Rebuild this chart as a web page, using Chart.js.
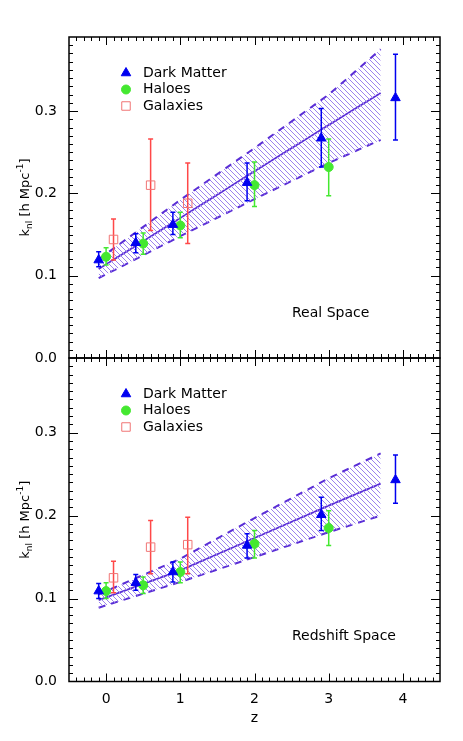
<!DOCTYPE html>
<html>
<head>
<meta charset="utf-8">
<script src="https://cdn.jsdelivr.net/npm/chart.js@4.4.1/dist/chart.umd.min.js"></script>
<style>
  html, body { margin: 0; padding: 0; background: #fff; }
  #wrap { position: relative; width: 463px; height: 741px; }
  canvas { position: absolute; left: 0; }
  #top { top: 0; }
  #bot { top: 328px; }
</style>
</head>
<body>
<div id="wrap">
  <canvas id="top" width="463" height="380"></canvas>
  <canvas id="bot" width="463" height="413"></canvas>
</div>
<script>
// axes
const xTicks = [0, 1, 2, 3, 4];
const yTicks = [0, 0.1, 0.2, 0.3];
const legendLabels = ["Dark Matter", "Haloes", "Galaxies"];
const panelNames = ["Real Space", "Redshift Space"];

// redshifts of each sample
const dmZ = [-0.1, 0.4, 0.9, 1.9, 2.9, 3.9];
const haloZ = [0, 0.5, 1.0, 2.0, 3.0];
const galZ = [0.1, 0.6, 1.1];
const bandZ = [-0.1, 1, 2, 3, 3.7];

// real space
const dmReal = [0.119, 0.140, 0.162, 0.213, 0.267, 0.316];
const dmRealLo = [0.111, 0.128, 0.150, 0.191, 0.232, 0.265];
const dmRealHi = [0.129, 0.151, 0.177, 0.237, 0.303, 0.369];
const haloReal = [0.123, 0.139, 0.161, 0.210, 0.232];
const haloRealLo = [0.113, 0.126, 0.146, 0.184, 0.197];
const haloRealHi = [0.134, 0.152, 0.177, 0.238, 0.266];
const galReal = [0.144, 0.210, 0.188];
const galRealLo = [0.119, 0.155, 0.139];
const galRealHi = [0.169, 0.266, 0.237];
const bandRealHi = [0.120, 0.192, 0.255, 0.320, 0.375];
const bandRealMid = [0.108, 0.170, 0.227, 0.283, 0.322];
const bandRealLo = [0.097, 0.148, 0.193, 0.237, 0.265];

// redshift space
const dmRed = [0.109, 0.119, 0.132, 0.164, 0.201, 0.243];
const dmRedLo = [0.100, 0.110, 0.120, 0.149, 0.182, 0.215];
const dmRedHi = [0.118, 0.129, 0.144, 0.178, 0.222, 0.273];
const haloRed = [0.109, 0.116, 0.132, 0.166, 0.185];
const haloRedLo = [0.100, 0.106, 0.119, 0.149, 0.164];
const haloRedHi = [0.119, 0.126, 0.144, 0.182, 0.206];
const galRed = [0.125, 0.162, 0.165];
const galRedLo = [0.107, 0.130, 0.130];
const galRedHi = [0.145, 0.194, 0.198];
const bandRedHi = [0.105, 0.148, 0.197, 0.245, 0.275];
const bandRedMid = [0.098, 0.134, 0.173, 0.212, 0.2385];
const bandRedLo = [0.089, 0.120, 0.150, 0.180, 0.200];

const FONT = "DejaVu Sans";
const BLUE = "#0000f0", GREEN = "#44e830", RED = "#ff4848", SQ = "#f07575";
const BAND = "#5a2ed6", HATCH = "#9c82ee";

function pts(xs, ys) { return xs.map((x, i) => ({ x: x, y: ys[i] })); }

// diagonal hatching for the band
function hatch() {
  const c = document.createElement("canvas");
  c.width = 5; c.height = 5;
  const g = c.getContext("2d");
  g.strokeStyle = HATCH; g.lineWidth = 1;
  g.beginPath();
  g.moveTo(-1, -1); g.lineTo(6, 6);
  g.moveTo(-1, 4); g.lineTo(1, 6);
  g.moveTo(4, -1); g.lineTo(6, 1);
  g.stroke();
  return g.createPattern(c, "repeat");
}

const errorBars = {
  id: "errorBars",
  beforeDatasetDraw(chart, args) {
    const ds = chart.data.datasets[args.index];
    if (!ds.errLo) return;
    const { ctx, scales: { x, y } } = chart;
    ctx.save();
    ctx.strokeStyle = ds.errColor;
    ctx.lineWidth = 1.5;
    ctx.beginPath();
    ds.data.forEach((p, i) => {
      const px = x.getPixelForValue(p.x);
      const y1 = y.getPixelForValue(ds.errLo[i]), y2 = y.getPixelForValue(ds.errHi[i]);
      ctx.moveTo(px, y1); ctx.lineTo(px, y2);
      ctx.moveTo(px - 2.5, y1); ctx.lineTo(px + 2.5, y1);
      ctx.moveTo(px - 2.5, y2); ctx.lineTo(px + 2.5, y2);
    });
    ctx.stroke();
    ctx.restore();
  }
};

const frameTicks = {
  id: "frameTicks",
  afterDraw(chart, args, opts) {
    const { ctx, chartArea: a, scales: { x, y } } = chart;
    ctx.save();
    ctx.strokeStyle = "#000";
    ctx.lineWidth = 1;
    ctx.beginPath();
    for (let i = 1; i < 50; i++) {
      const v = -0.5 + i * 0.1;
      const px = Math.round(x.getPixelForValue(v)) + 0.5;
      const len = i % 10 === 5 ? 8 : 4;
      ctx.moveTo(px, a.bottom); ctx.lineTo(px, a.bottom - len);
      ctx.moveTo(px, a.top); ctx.lineTo(px, a.top + len);
    }
    for (let i = 1; i < 39; i++) {
      const py = Math.round(y.getPixelForValue(i * 0.01)) + 0.5;
      const len = i % 10 === 0 ? 9 : 4;
      ctx.moveTo(a.left, py); ctx.lineTo(a.left + len, py);
      ctx.moveTo(a.right, py); ctx.lineTo(a.right - len, py);
    }
    ctx.stroke();
    ctx.lineWidth = 1.5;
    ctx.strokeRect(a.left, a.top, a.right - a.left, a.bottom - a.top);

    // legend
    const marks = [
      { pointStyle: "triangle", radius: 5.5, fill: BLUE, stroke: BLUE },
      { pointStyle: "circle", radius: 4.5, fill: GREEN, stroke: GREEN },
      { pointStyle: "rect", radius: 6, fill: null, stroke: SQ }
    ];
    ctx.font = "14px '" + FONT + "'";
    ctx.textBaseline = "middle";
    ctx.textAlign = "left";
    legendLabels.forEach((t, i) => {
      const ly = a.top + 36 + i * 16.5;
      const m = marks[i];
      ctx.fillStyle = m.fill || "rgba(0,0,0,0)";
      ctx.strokeStyle = m.stroke;
      ctx.lineWidth = 1;
      Chart.helpers.drawPoint(ctx, { pointStyle: m.pointStyle, radius: m.radius, rotation: 0, borderWidth: 1 }, 126, ly);
      ctx.fillStyle = "#000";
      ctx.fillText(t, 143, ly);
    });
    ctx.fillText(opts.name, 292, a.bottom - 45);

    // y axis title with subscript and superscript
    ctx.translate(29, (a.top + a.bottom) / 2);
    ctx.rotate(-Math.PI / 2);
    ctx.textBaseline = "alphabetic";
    const parts = [["k", 13, 0], ["nl", 9, 3], [" [h Mpc", 13, 0], ["-1", 9, -6], ["]", 13, 0]];
    let w = 0;
    parts.forEach(p => { ctx.font = p[1] + "px '" + FONT + "'"; w += ctx.measureText(p[0]).width; });
    let cx = -w / 2;
    parts.forEach(p => {
      ctx.font = p[1] + "px '" + FONT + "'";
      ctx.fillText(p[0], cx, p[2]);
      cx += ctx.measureText(p[0]).width;
    });
    ctx.restore();
  }
};

function makePanel(id, name, padTop, xHeight, showX, dm, dmLo, dmHi, halo, haloLo, haloHi, gal, galLo, galHi, bHi, bMid, bLo) {
  const pattern = hatch();
  new Chart(document.getElementById(id), {
    type: "scatter",
    data: {
      datasets: [
        { label: legendLabels[0], data: pts(dmZ, dm), errLo: dmLo, errHi: dmHi, errColor: BLUE,
          pointStyle: "triangle", pointRadius: 5.5, backgroundColor: BLUE, borderColor: BLUE, borderWidth: 1 },
        { label: legendLabels[1], data: pts(haloZ, halo), errLo: haloLo, errHi: haloHi, errColor: GREEN,
          pointStyle: "circle", pointRadius: 4.5, backgroundColor: GREEN, borderColor: GREEN, borderWidth: 1 },
        { label: legendLabels[2], data: pts(galZ, gal), errLo: galLo, errHi: galHi, errColor: RED,
          pointStyle: "rect", pointRadius: 6, backgroundColor: "rgba(0,0,0,0)", borderColor: SQ, borderWidth: 1 },
        { data: pts(bandZ, bHi), showLine: true, pointRadius: 0, borderColor: BAND, borderWidth: 2,
          borderDash: [7, 6], fill: "+1", backgroundColor: pattern },
        { data: pts(bandZ, bLo), showLine: true, pointRadius: 0, borderColor: BAND, borderWidth: 2,
          borderDash: [7, 6], fill: false },
        { data: pts(bandZ, bMid), showLine: true, pointRadius: 0, borderColor: BAND, borderWidth: 1.8, fill: false }
      ]
    },
    options: {
      responsive: false,
      animation: false,
      events: [],
      layout: { padding: { top: padTop, right: 23, left: 0, bottom: 0 } },
      plugins: { legend: { display: false }, tooltip: { enabled: false }, frameTicks: { name: name } },
      scales: {
        x: {
          type: "linear", min: -0.5, max: 4.5,
          afterBuildTicks: s => { s.ticks = xTicks.map(v => ({ value: v })); },
          afterFit: s => { s.height = xHeight; },
          grid: { display: false }, border: { display: false },
          ticks: { display: showX, padding: 1, color: "#000", font: { family: FONT, size: 14 } },
          title: { display: showX, text: "z", color: "#000", padding: { top: 0, bottom: 14.5 }, font: { family: FONT, size: 14 } }
        },
        y: {
          type: "linear", min: 0, max: 0.39,
          afterBuildTicks: s => { s.ticks = yTicks.map(v => ({ value: v })); },
          afterFit: s => { s.width = 69; },
          grid: { display: false }, border: { display: false },
          ticks: { padding: 4, color: "#000", font: { family: FONT, size: 14 }, callback: v => v.toFixed(1) }
        }
      }
    },
    plugins: [errorBars, frameTicks]
  });
}

Chart.defaults.font.family = FONT;
makePanel("top", panelNames[0], 37, 22, false,
  dmReal, dmRealLo, dmRealHi, haloReal, haloRealLo, haloRealHi, galReal, galRealLo, galRealHi,
  bandRealHi, bandRealMid, bandRealLo);
makePanel("bot", panelNames[1], 30, 59.5, true,
  dmRed, dmRedLo, dmRedHi, haloRed, haloRedLo, haloRedHi, galRed, galRedLo, galRedHi,
  bandRedHi, bandRedMid, bandRedLo);
</script>
</body>
</html>
